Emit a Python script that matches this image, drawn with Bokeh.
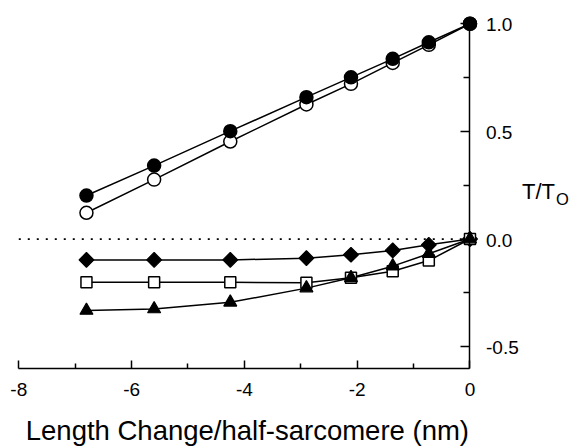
import math
from bokeh.plotting import figure
from bokeh.models import Range1d, FixedTicker, LinearAxis
from bokeh.core.properties import value
from bokeh.embed import file_html
from bokeh.resources import INLINE

# ---- data ----
length_change = [-6.80, -5.60, -4.25, -2.90, -2.11, -1.37, -0.73, 0.0]
filled_circles = [0.202, 0.341, 0.501, 0.659, 0.751, 0.837, 0.914, 1.0]
open_circles = [0.122, 0.276, 0.453, 0.625, 0.721, 0.818, 0.902, 1.0]
filled_diamonds = [-0.097, -0.097, -0.097, -0.089, -0.073, -0.053, -0.027, 0.0]
open_squares = [-0.201, -0.201, -0.201, -0.203, -0.180, -0.150, -0.100, 0.0]
filled_triangles = [-0.332, -0.325, -0.294, -0.228, -0.180, -0.126, -0.068, 0.0]

x_ticks = [-8, -6, -4, -2, 0]
x_minor = [-7, -5, -3, -1]
y_ticks = [-0.5, 0.0, 0.5, 1.0]
y_minor = [-0.25, 0.25, 0.75]
x_tick_labels = ["-8", "-6", "-4", "-2", "0"]
y_tick_labels = ["-0.5", "0.0", "0.5", "1.0"]
x_title = "Length Change/half-sarcomere (nm)"
y_title_main = "T/T"
y_title_sub = "O"

X_MIN, X_MAX = x_ticks[0], x_ticks[-1]
Y_MIN, Y_MAX = -0.6, 1.0

FONT = value("Liberation Sans")

# the frame covers the whole canvas; the drawn axes sit inside it
p = figure(width=570, height=448,
           x_range=Range1d(-8.324, 1.782), y_range=Range1d(-0.973, 1.108),
           x_axis_location=None, y_axis_location=None,
           output_backend="svg", toolbar_location=None,
           min_border_left=0, min_border_right=0,
           min_border_top=0, min_border_bottom=0)
p.outline_line_color = None
p.grid.visible = False
p.background_fill_color = "white"
p.border_fill_color = "white"


def make_axis(tick_values, tick_len, bounds, loc, show_line):
    ax = LinearAxis(ticker=FixedTicker(ticks=[], minor_ticks=tick_values),
                    bounds=bounds, fixed_location=loc)
    ax.axis_line_width = 1.5
    ax.axis_line_color = "black" if show_line else None
    ax.major_tick_in = 0
    ax.major_tick_out = 0
    ax.minor_tick_in = tick_len
    ax.minor_tick_out = 0
    ax.minor_tick_line_width = 1.5
    ax.minor_tick_line_color = "black"
    ax.major_label_standoff = 0
    ax.axis_label_standoff = 0
    return ax


p.add_layout(make_axis(x_ticks, 8, (X_MIN, X_MAX), Y_MIN, True), "below")
p.add_layout(make_axis(x_minor, 5, (X_MIN, X_MAX), Y_MIN, False), "below")
p.add_layout(make_axis(y_ticks, 9, (Y_MIN, Y_MAX), X_MAX, True), "right")
p.add_layout(make_axis(y_minor, 6, (Y_MIN, Y_MAX), X_MAX, False), "right")

# dotted zero line
p.line([X_MIN, X_MAX], [0, 0], line_color="black", line_width=1.8, line_dash="2 7")

# connecting lines
for ys in (open_circles, filled_circles, filled_diamonds, open_squares, filled_triangles):
    p.line(length_change, ys, line_color="black", line_width=1.5)

# markers
p.scatter(length_change, open_circles, marker="circle", size=13,
          fill_color="white", line_color="black", line_width=1.5)
p.scatter(length_change, filled_circles, marker="circle", size=13,
          fill_color="black", line_color="black", line_width=1.5)
p.scatter(length_change, filled_diamonds, marker="square", angle=math.pi / 4, size=10.5,
          fill_color="black", line_color="black", line_width=1.2)
p.scatter(length_change, open_squares, marker="square", size=11,
          fill_color="white", line_color="black", line_width=1.5)
p.scatter(length_change, filled_triangles, marker="triangle", size=13,
          fill_color="black", line_color="black", line_width=1.2)

# tick labels (text glyphs at the tick values)
p.text(x=x_ticks, y=[Y_MIN] * len(x_ticks), text=x_tick_labels,
       x_offset=0, y_offset=21, text_align="center", text_baseline="alphabetic",
       text_font=FONT, text_font_size="19px", text_color="black")
p.text(x=[X_MAX] * len(y_ticks), y=y_ticks, text=y_tick_labels,
       x_offset=16, y_offset=1, text_align="left", text_baseline="alphabetic",
       text_font=FONT, text_font_size="19px", text_color="black")

# axis titles
p.text(x=[(X_MIN + X_MAX) / 2], y=[Y_MIN], text=[x_title],
       x_offset=3, y_offset=62, text_align="center", text_baseline="alphabetic",
       text_font=FONT, text_font_size="27.5px", text_color="black")
p.text(x=[X_MAX], y=[0.222], text=[y_title_main],
       x_offset=52, y_offset=0, text_align="left", text_baseline="alphabetic",
       text_font=FONT, text_font_size="22px", text_color="black")
p.text(x=[X_MAX], y=[0.184], text=[y_title_sub],
       x_offset=86, y_offset=0, text_align="left", text_baseline="alphabetic",
       text_font=FONT, text_font_size="16.5px", text_color="black")

open("out.html", "w").write(file_html(p, INLINE))
